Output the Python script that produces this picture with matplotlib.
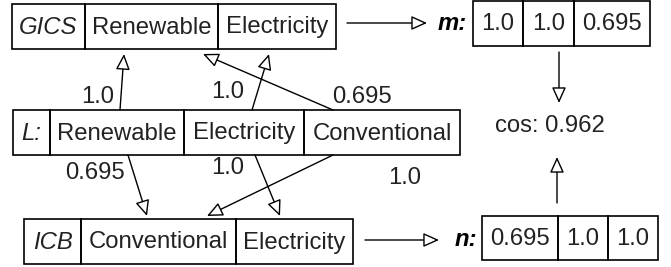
import matplotlib.pyplot as plt
from matplotlib.patches import Rectangle

# Data
gics_labels = ["GICS", "Renewable", "Electricity"]
l_labels = ["L:", "Renewable", "Electricity", "Conventional"]
icb_labels = ["ICB", "Conventional", "Electricity"]
m_values = [1.0, 1.0, 0.695]
n_values = [0.695, 1.0, 1.0]
cos_value = 0.962
# (L cell, GICS cell, weight)
up_edges = [(1, 1, 1.0), (2, 2, 1.0), (3, 1, 0.695)]
# (L cell, ICB cell, weight)
down_edges = [(1, 1, 0.695), (2, 2, 1.0), (3, 1, 1.0)]

# Layout (pixel space)
FONT = ["Liberation Sans", "DejaVu Sans"]
FS = 17.2
gics_x = [12, 85, 218, 336]
gics_y = (4, 49)
l_x = [13, 50, 184, 304, 460]
l_y = (110, 155)
icb_x = [24, 81, 236, 353]
icb_y = (219, 264)
m_x = [473, 523, 574, 650]
m_y = (1, 46)
n_x = [482, 558, 608, 658]
n_y = (216, 260)
up_x = [(120, 124), (252, 269), (333, 203)]
up_lab = [(98, 97), (228, 92), (362, 97)]
down_x = [(128, 147), (255, 280), (333, 207)]
down_lab = [(95, 173), (228, 168), (405, 178)]

fig = plt.figure(figsize=(6.71, 2.67), dpi=100)
ax = fig.add_axes([0, 0, 1, 1])
ax.set_xlim(0, 671)
ax.set_ylim(267, 0)
ax.axis("off")


def draw_row(xs, ys, labels, styles):
    for i, lab in enumerate(labels):
        ax.add_patch(Rectangle((xs[i], ys[0]), xs[i + 1] - xs[i], ys[1] - ys[0],
                               fill=False, ec="black", lw=1.2))
        ax.text((xs[i] + xs[i + 1]) / 2, (ys[0] + ys[1]) / 2 + 1, lab,
                ha="center", va="center", fontsize=FS, family=FONT,
                style=styles[i], color="#222222")


def arrow(x0, y0, x1, y1):
    ax.annotate("", xy=(x1, y1), xytext=(x0, y0),
                arrowprops=dict(arrowstyle="-|>,head_length=0.6,head_width=0.27",
                                fc="white", ec="black", lw=1.0,
                                mutation_scale=16, shrinkA=0, shrinkB=0))


draw_row(gics_x, gics_y, gics_labels, ["italic", "normal", "normal"])
draw_row(l_x, l_y, l_labels, ["italic", "normal", "normal", "normal"])
draw_row(icb_x, icb_y, icb_labels, ["italic", "normal", "normal"])
draw_row(m_x, m_y, [str(v) for v in m_values], ["normal"] * 3)
draw_row(n_x, n_y, [str(v) for v in n_values], ["normal"] * 3)

for (i, j, w), (xa, xb), (tx, ty) in zip(up_edges, up_x, up_lab):
    arrow(xa, l_y[0], xb, gics_y[1] + 5)
    ax.text(tx, ty, str(w), ha="center", va="center", fontsize=FS, family=FONT, color="#222222")

for (i, j, w), (xa, xb), (tx, ty) in zip(down_edges, down_x, down_lab):
    arrow(xa, l_y[1], xb, icb_y[0] - 3)
    ax.text(tx, ty, str(w), ha="center", va="center", fontsize=FS, family=FONT, color="#222222")

# to vectors
arrow(347, 23, 427, 23)
ax.text(452, 24, "m:", ha="center", va="center", fontsize=FS, family=FONT,
        weight="bold", style="italic")
arrow(365, 240, 439, 240)
ax.text(466, 240, "n:", ha="center", va="center", fontsize=FS, family=FONT,
        weight="bold", style="italic")

# cosine
arrow(559, 52, 559, 103)
arrow(557, 203, 557, 157)
ax.text(550, 126, f"cos: {cos_value}", ha="center", va="center", fontsize=FS,
        family=FONT, color="#222222")

fig.savefig("out.png", dpi=100)
